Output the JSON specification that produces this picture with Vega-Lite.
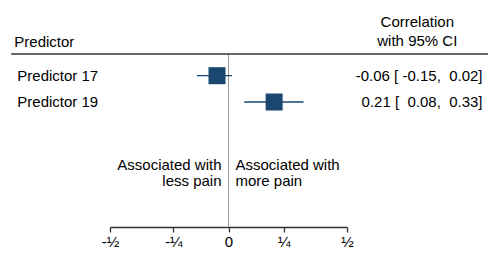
{
  "$schema": "https://vega.github.io/schema/vega-lite/v6.json",
  "width": 237,
  "height": 173,
  "autosize": {"type": "none"},
  "padding": {"left": 110, "top": 54, "right": 152, "bottom": 39},
  "background": "white",
  "config": {
    "view": {"stroke": null},
    "text": {"font": "Liberation Sans", "fontSize": 15, "color": "black"}
  },
  "data": {
    "values": [
      {"predictor": "Predictor 17", "row": 1, "r": -0.06, "lo": -0.15, "hi": 0.02, "label": "-0.06 [ -0.15, \u00a00.02]"},
      {"predictor": "Predictor 19", "row": 2, "r": 0.21, "lo": 0.08, "hi": 0.33, "label": "0.21 [ \u00a00.08, \u00a00.33]"}
    ]
  },
  "layer": [
    {
      "data": {"values": [{}]},
      "mark": {"type": "rule", "color": "#999999", "strokeWidth": 1},
      "encoding": {
        "x": {
          "datum": 0,
          "type": "quantitative",
          "scale": {"type": "pow", "exponent": 1.1, "domain": [-0.5, 0.5], "nice": false, "zero": false},
          "axis": {
            "title": null,
            "values": [-0.5, -0.25, 0, 0.25, 0.5],
            "labelExpr": "datum.value == -0.5 ? '-½' : datum.value == -0.25 ? '-¼' : datum.value == 0.25 ? '¼' : datum.value == 0.5 ? '½' : '0'",
            "grid": false,
            "domainColor": "#333333",
            "domainWidth": 1.3,
            "tickColor": "#333333",
            "tickWidth": 1.3,
            "tickSize": 5,
            "labelPadding": 2,
            "labelFont": "Liberation Sans",
            "labelFontSize": 15,
            "labelColor": "black",
            "labelFlush": false,
            "labelOverlap": false
          }
        }
      }
    },
    {
      "data": {"values": [{}]},
      "mark": {"type": "rule", "color": "#333333", "strokeWidth": 1.3},
      "encoding": {
        "x": {"datum": -0.868},
        "x2": {"datum": 1.02},
        "y": {"datum": 0.175, "type": "quantitative", "scale": {"domain": [0.175, 6.753], "reverse": true, "nice": false, "zero": false}, "axis": null}
      }
    },
    {
      "mark": {"type": "rule", "color": "#1a476f", "strokeWidth": 1.3},
      "encoding": {
        "x": {"field": "lo", "type": "quantitative"},
        "x2": {"field": "hi"},
        "y": {"field": "row", "type": "quantitative", "axis": null}
      }
    },
    {
      "mark": {"type": "point", "shape": "square", "filled": true, "size": 289, "color": "#1a476f", "opacity": 1},
      "encoding": {
        "x": {"field": "r", "type": "quantitative"},
        "y": {"field": "row", "type": "quantitative", "axis": null}
      }
    },
    {
      "mark": {"type": "text", "align": "left", "baseline": "middle"},
      "encoding": {
        "x": {"datum": -0.8455},
        "y": {"field": "row", "type": "quantitative", "axis": null},
        "text": {"field": "predictor"}
      }
    },
    {
      "mark": {"type": "text", "align": "right", "baseline": "middle"},
      "encoding": {
        "x": {"datum": 1.0},
        "y": {"field": "row", "type": "quantitative", "axis": null},
        "text": {"field": "label"}
      }
    },
    {
      "data": {"values": [{}]},
      "mark": {"type": "text", "align": "left", "baseline": "alphabetic", "text": "Predictor"},
      "encoding": {
        "x": {"datum": -0.8564},
        "y": {"datum": -0.1026, "type": "quantitative", "axis": null}
      }
    },
    {
      "data": {"values": [{}]},
      "mark": {"type": "text", "align": "center", "baseline": "alphabetic", "lineHeight": 19, "text": ["Correlation", "with 95% CI"]},
      "encoding": {
        "x": {"datum": 0.7636},
        "y": {"datum": -0.863, "type": "quantitative", "axis": null}
      }
    },
    {
      "data": {"values": [{}]},
      "mark": {"type": "text", "align": "right", "baseline": "alphabetic", "dx": -7, "text": "Associated with"},
      "encoding": {
        "x": {"datum": 0},
        "y": {"datum": 4.585, "type": "quantitative", "axis": null}
      }
    },
    {
      "data": {"values": [{}]},
      "mark": {"type": "text", "align": "right", "baseline": "alphabetic", "dx": -7, "text": "less pain"},
      "encoding": {
        "x": {"datum": 0},
        "y": {"datum": 5.195, "type": "quantitative", "axis": null}
      }
    },
    {
      "data": {"values": [{}]},
      "mark": {"type": "text", "align": "left", "baseline": "alphabetic", "dx": 7, "text": "Associated with"},
      "encoding": {
        "x": {"datum": 0},
        "y": {"datum": 4.585, "type": "quantitative", "axis": null}
      }
    },
    {
      "data": {"values": [{}]},
      "mark": {"type": "text", "align": "left", "baseline": "alphabetic", "dx": 7, "text": "more pain"},
      "encoding": {
        "x": {"datum": 0},
        "y": {"datum": 5.195, "type": "quantitative", "axis": null}
      }
    }
  ]
}
